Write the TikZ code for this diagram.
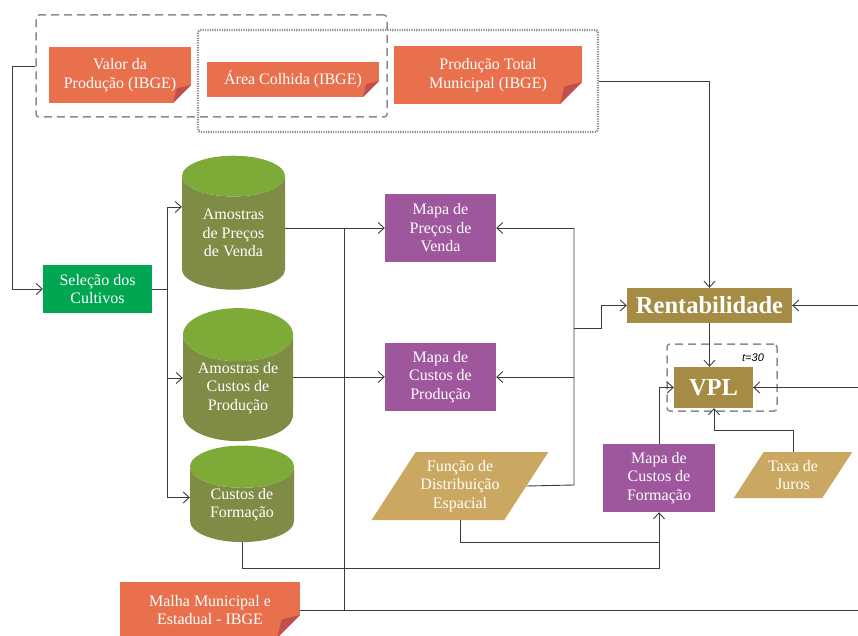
\documentclass[tikz,border=0pt]{standalone}
\usepackage{fontspec}
\setmainfont{Liberation Serif}
\setsansfont{Liberation Sans}
\usetikzlibrary{shapes.geometric,arrows.meta,calc}
\definecolor{note}{HTML}{E8704D}
\definecolor{fold}{HTML}{C0504D}
\definecolor{crop}{HTML}{00A651}
\definecolor{map}{HTML}{9E579D}
\definecolor{result}{HTML}{A68B45}
\definecolor{param}{HTML}{CBA862}
\definecolor{cyltop}{HTML}{7EAA37}
\definecolor{cylbody}{HTML}{7E8C45}
\definecolor{wire}{HTML}{3C3C3C}
\definecolor{frame}{HTML}{8C8C8C}
\tikzset{
  txt/.style={text=white, align=center, inner sep=0pt, font=\fontsize{16}{18.5}\selectfont},
  sticky/.style={txt, fill=note,
    path picture={
      \fill[white] (path picture bounding box.south east) ++(0,-#1) -- ++(0,#1) -- ++(-#1,0) -- cycle;
      \fill[fold] (path picture bounding box.south east) ++(0,-#1) -- ++(-#1,#1) -- ++({0.2*#1},{-0.8*#1}) -- cycle;
    }},
  sticky/.default=18,
  box/.style={txt, rectangle, fill=#1},
  db/.style={txt, cylinder, shape border rotate=90, aspect=0.66,
    cylinder uses custom fill, cylinder end fill=cyltop, cylinder body fill=cylbody},
  io/.style={txt, trapezium, trapezium left angle=57, trapezium right angle=123, fill=param, inner xsep=-6pt},
  big/.style={box=result, font=\bfseries\fontsize{24.5}{26}\selectfont},
  dashbox/.style={draw=frame, line width=1.5pt, dash pattern=on 8pt off 5pt, rounded corners=3pt},
  dotbox/.style={draw=frame, line width=2.2pt, dash pattern=on 1.2pt off 1.2pt, rounded corners=3pt},
  conn/.style={draw=wire, line width=0.9pt}
}
\begin{document}
\begin{tikzpicture}[x=1pt, y=-1pt, >={Straight Barb[length=6pt,width=11pt]}]
\useasboundingbox (0,0) rectangle (858,636);
% IBGE sources
\node[dashbox, minimum width=351, minimum height=102] (ibgea) at (211.5,66) {};
\node[dotbox, minimum width=400, minimum height=102] (ibgeb) at (398,81) {};
\node[sticky, minimum width=142, minimum height=56] (valor) at (120,75) {Valor da\\Produção (IBGE)};
\node[sticky=16, minimum width=172, minimum height=35] (area) at (293,79.5) {Área Colhida (IBGE)};
\node[sticky=22, minimum width=188, minimum height=58] (prodtot) at (488,75) {Produção Total\\Municipal (IBGE)};
\node[sticky=23, minimum width=180, minimum height=56] (malha) at (210,610) {Malha Municipal e\\Estadual - IBGE};

\node[box=crop, minimum width=109, minimum height=48] (selecao) at (97.5,289) {Seleção dos\\Cultivos};
% samples
\node[db, minimum width=103, minimum height=134] (amprec) at (233.5,233) {Amostras\\de Preços\\de Venda};
\node[db, minimum width=110, minimum height=133] (amcust) at (238,388) {Amostras de\\Custos de\\Produção};
\node[db, minimum width=104, minimum height=92] (custform) at (242,504.5) {Custos de\\Formação};
% maps
\node[box=map, minimum width=111, minimum height=68] (mapprec) at (440.5,228) {Mapa de\\Preços de\\Venda};
\node[box=map, minimum width=111, minimum height=68] (mapcust) at (440.5,377) {Mapa de\\Custos de\\Produção};
\node[box=map, minimum width=112, minimum height=68] (mapform) at (659,478) {Mapa de\\Custos de\\Formação};
\node[io, minimum height=68] (funcao) at (460,486) {Função de\\Distribuição\\Espacial};
\node[io, minimum height=46] (taxa) at (793,475) {Taxa de\\Juros};
% results
\node[big, minimum width=165, minimum height=35] (rent) at (709.5,305.5) {Rentabilidade};
\node[dashbox, minimum width=110, minimum height=67] (vplbox) at (722,377.5) {};
\node[big, minimum width=79, minimum height=41] (vpl) at (713.5,387.5) {VPL};
\node[font=\sffamily\itshape\fontsize{11}{12}\selectfont, inner sep=0pt] (horiz) at (753,358) {t=30};

\coordinate (lbus) at (12,289);
\coordinate (sbus) at (167,289);
\coordinate (mbus) at (344,610);
\coordinate (fbus) at (574,485);
\coordinate (rjog) at (601,328);
\coordinate (tjog) at (714,430);
\coordinate (redge) at (858,610);

\draw[conn,->] (ibgea.west) -| (lbus) -- (selecao.west);
\draw[conn] (selecao.east) -- (sbus);
\draw[conn,->] (sbus) |- ([yshift=26pt]amprec.west);
\draw[conn,->] (sbus) |- ([yshift=10pt]amcust.west);
\draw[conn,->] (sbus) |- ([yshift=7pt]custform.west);
\draw[conn,->] (amprec.east |- mapprec.west) -- (mapprec.west);
\draw[conn,->] (amcust.east |- mapcust.west) -- (mapcust.west);
\draw[conn] (malha.east) -- (redge);
\draw[conn] (mbus) -- (mbus |- mapprec.west);
\draw[conn] (funcao.east) -- (fbus) -- (fbus |- mapprec.east);
\draw[conn,->] (fbus |- mapprec.east) -- (mapprec.east);
\draw[conn,->] (fbus |- mapcust.east) -- (mapcust.east);
\draw[conn,->] (fbus |- rjog) -- (rjog) |- (rent.west);
\draw[conn,->] (ibgeb.east) -| (rent.north);
\draw[conn,->] (rent.south) -- (rent.south |- vpl.north);
\draw[conn,->] (rent.east -| redge) -- (rent.east);
\draw[conn,->] (vpl.east -| redge) -- (vpl.east);
\draw[conn,->] (mapform.north) |- (vpl.west);
\draw[conn,->] (taxa.north) |- (tjog) -- (tjog |- vpl.south);
\draw[conn,->] (custform.south) -- ++(0,26) -| (mapform.south);
\draw[conn] (funcao.south) |- ($(mapform.south)+(0,30)$);
\end{tikzpicture}
\end{document}
